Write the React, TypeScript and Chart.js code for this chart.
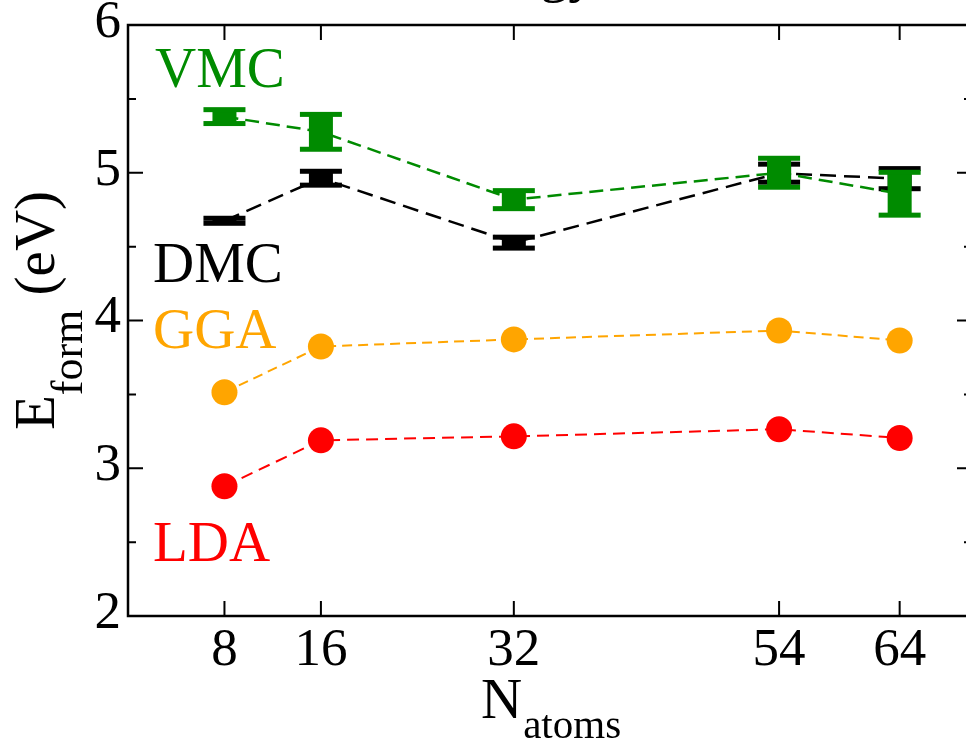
import React, { useEffect, useRef } from 'react';
import { Chart, registerables } from 'chart.js';
Chart.register(...registerables);

const atoms = [8, 16, 32, 54, 64];
const vmc = [5.38, 5.277, 4.818, 5.0, 4.858];
const vmcErr = [0.047, 0.118, 0.061, 0.098, 0.145];
const dmc = [4.675, 4.963, 4.527, 4.997, 4.96];
const dmcErr = [0.017, 0.047, 0.037, 0.061, 0.068];
const gga = [3.514, 3.824, 3.872, 3.932, 3.865];
const lda = [2.878, 3.189, 3.216, 3.264, 3.205];
const xTicks = [8, 16, 32, 54, 64];
const yTicks = [2, 3, 4, 5, 6];
const yMinor = [2.5, 3.5, 4.5, 5.5];

const GREEN = '#008b00';
const ORANGE = '#ffa500';
const RED = '#ff0000';
const BLACK = '#000000';
const SERIF = '"Liberation Serif", "Times New Roman", serif';

const pts = (ys: number[]) => atoms.map((x, i) => ({ x, y: ys[i] }));

const errorBarPlugin = {
  id: 'errorBars',
  afterDatasetDraw(chart: any, args: any) {
    const ds = chart.data.datasets[args.index];
    if (!ds.errors) return;
    const ctx = chart.ctx;
    const xs = chart.scales.x;
    const ys = chart.scales.y;
    ctx.save();
    ctx.fillStyle = ds.borderColor;
    ds.data.forEach((p: any, i: number) => {
      const e = ds.errors[i];
      const x = xs.getPixelForValue(p.x);
      const yt = ys.getPixelForValue(p.y + e);
      const yb = ys.getPixelForValue(p.y - e);
      ctx.fillRect(x - 12, yt, 24, yb - yt);
      ctx.fillRect(x - 21, yt - 2.5, 42, 5);
      ctx.fillRect(x - 21, yb - 2.5, 42, 5);
    });
    ctx.restore();
  },
};

const framePlugin = {
  id: 'frame',
  afterDraw(chart: any) {
    const ctx = chart.ctx;
    const { left, right, top, bottom } = chart.chartArea;
    const xs = chart.scales.x;
    const ys = chart.scales.y;
    ctx.save();
    ctx.strokeStyle = BLACK;
    ctx.lineWidth = 2.5;
    ctx.strokeRect(left, top, right - left, bottom - top);
    ctx.lineWidth = 2;
    ctx.beginPath();
    xTicks.forEach((v) => {
      const x = xs.getPixelForValue(v);
      ctx.moveTo(x, bottom);
      ctx.lineTo(x, bottom - 15);
      ctx.moveTo(x, top);
      ctx.lineTo(x, top + 15);
    });
    yTicks.forEach((v) => {
      const y = ys.getPixelForValue(v);
      ctx.moveTo(left, y);
      ctx.lineTo(left + 15, y);
      ctx.moveTo(right, y);
      ctx.lineTo(right - 15, y);
    });
    yMinor.forEach((v) => {
      const y = ys.getPixelForValue(v);
      ctx.moveTo(left, y);
      ctx.lineTo(left + 8, y);
      ctx.moveTo(right, y);
      ctx.lineTo(right - 8, y);
    });
    ctx.stroke();

    // tick labels
    ctx.fillStyle = BLACK;
    ctx.font = `53px ${SERIF}`;
    ctx.textAlign = 'center';
    ctx.textBaseline = 'alphabetic';
    xTicks.forEach((v) => {
      ctx.fillText(String(v), xs.getPixelForValue(v), 665);
    });
    ctx.textAlign = 'right';
    ctx.textBaseline = 'middle';
    yTicks.forEach((v) => {
      ctx.fillText(String(v), left - 7, ys.getPixelForValue(v) - 2);
    });

    // x axis title with subscript
    ctx.textAlign = 'left';
    ctx.textBaseline = 'alphabetic';
    ctx.font = `57px ${SERIF}`;
    ctx.fillText('N', 481, 718);
    const wN = ctx.measureText('N').width;
    ctx.font = `41px ${SERIF}`;
    ctx.fillText('atoms', 481 + wN + 1, 738);

    // y axis title with subscript (rotated)
    ctx.save();
    ctx.translate(54, 430);
    ctx.rotate(-Math.PI / 2);
    ctx.font = `57px ${SERIF}`;
    ctx.fillText('E', 0, 0);
    let off = ctx.measureText('E').width;
    ctx.font = `44px ${SERIF}`;
    ctx.fillText('form', off, 28);
    off += ctx.measureText('form').width;
    ctx.font = `57px ${SERIF}`;
    ctx.fillText(' (eV)', off, 0);
    ctx.restore();

    // series labels
    ctx.font = `57px ${SERIF}`;
    ctx.fillStyle = GREEN;
    ctx.fillText('VMC', 155, 87);
    ctx.fillStyle = BLACK;
    ctx.fillText('DMC', 153, 282);
    ctx.fillStyle = ORANGE;
    ctx.fillText('GGA', 153, 348);
    ctx.fillStyle = RED;
    ctx.fillText('LDA', 153, 561);

    // title (mostly above the visible area)
    ctx.fillStyle = BLACK;
    ctx.textAlign = 'center';
    ctx.fillText('Energy', 515, -9);
    ctx.restore();
  },
};

export default function App() {
  const ref = useRef<HTMLCanvasElement | null>(null);
  useEffect(() => {
    if (!ref.current) return;
    const chart = new Chart(ref.current, {
      type: 'line',
      data: {
        datasets: [
          {
            label: 'VMC',
            data: pts(vmc),
            errors: vmcErr,
            borderColor: GREEN,
            backgroundColor: GREEN,
            borderWidth: 2.5,
            borderDash: [14, 7],
            pointRadius: 0,
            fill: false,
          } as any,
          {
            label: 'DMC',
            data: pts(dmc),
            errors: dmcErr,
            borderColor: BLACK,
            backgroundColor: BLACK,
            borderWidth: 2.5,
            borderDash: [16, 8],
            pointRadius: 0,
            fill: false,
          } as any,
          {
            label: 'GGA',
            data: pts(gga),
            borderColor: ORANGE,
            backgroundColor: ORANGE,
            pointBackgroundColor: ORANGE,
            borderWidth: 2,
            borderDash: [10, 6],
            pointRadius: 13,
            pointBorderWidth: 0,
            fill: false,
          },
          {
            label: 'LDA',
            data: pts(lda),
            borderColor: RED,
            backgroundColor: RED,
            pointBackgroundColor: RED,
            borderWidth: 2,
            borderDash: [12, 7],
            pointRadius: 13,
            pointBorderWidth: 0,
            fill: false,
          },
        ],
      },
      options: {
        responsive: false,
        animation: false,
        layout: { padding: { left: 128, top: 25, right: 18, bottom: 126 } },
        plugins: { legend: { display: false }, tooltip: { enabled: false } },
        scales: {
          x: { type: 'linear', min: 0, max: 70, display: false },
          y: { type: 'linear', min: 2, max: 6, display: false },
        },
      },
      plugins: [errorBarPlugin, framePlugin],
    });
    return () => chart.destroy();
  }, []);
  return (
    <div
      style={{
        position: 'fixed',
        left: 0,
        top: 0,
        width: 966,
        height: 742,
        overflow: 'hidden',
        background: '#fff',
      }}
    >
      <canvas ref={ref} width={990} height={742} style={{ width: 990, height: 742, display: 'block' }} />
    </div>
  );
}
